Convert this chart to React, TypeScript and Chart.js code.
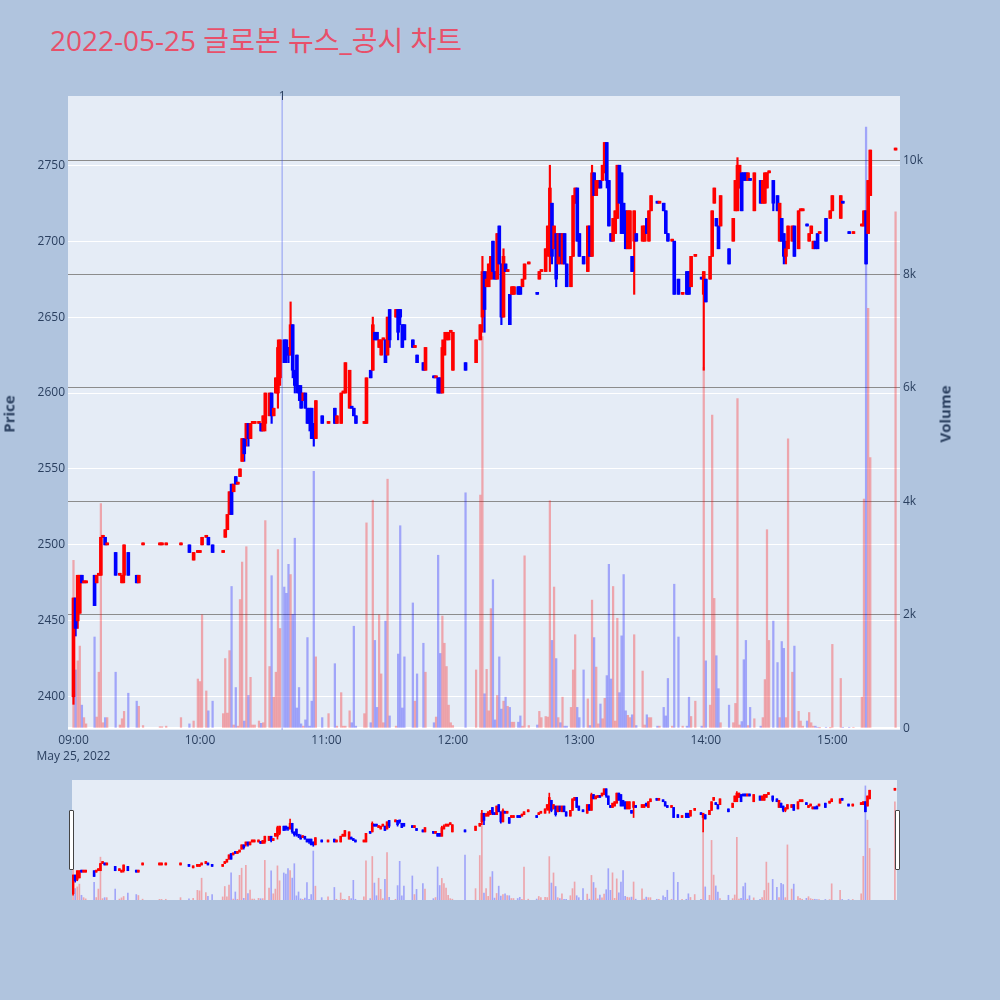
import React, { useEffect, useRef } from "react";
import { Chart, registerables } from "chart.js";

Chart.register(...registerables);

// ---------------- data ----------------
const TITLE = "2022-05-25 글로본 뉴스_공시 차트";
const dateLabel = "May 25, 2022";

const times = [
  "09:00","09:01","09:02","09:03","09:04","09:05","09:06","09:10","09:11","09:12",
  "09:13","09:14","09:15","09:16","09:20","09:22","09:23","09:24","09:26","09:30",
  "09:31","09:33","09:41","09:42","09:44","09:51","09:55","09:57","09:59","10:00",
  "10:01","10:03","10:04","10:06","10:11","10:12","10:13","10:14","10:15","10:16",
  "10:17","10:18","10:19","10:20","10:21","10:22","10:23","10:24","10:25","10:26",
  "10:28","10:29","10:30","10:31","10:33","10:34","10:35","10:36","10:37","10:38",
  "10:40","10:41","10:42","10:43","10:44","10:45","10:46","10:47","10:48","10:49",
  "10:50","10:51","10:52","10:53","10:54","10:55","10:58","11:01","11:04","11:05",
  "11:07","11:08","11:09","11:11","11:12","11:13","11:14","11:18","11:19","11:21",
  "11:22","11:23","11:24","11:25","11:26","11:27","11:28","11:29","11:30","11:33",
  "11:34","11:35","11:36","11:37","11:41","11:42","11:43","11:46","11:47","11:51",
  "11:52","11:53","11:54","11:55","11:56","11:57","11:58","11:59","12:00","12:06",
  "12:11","12:13","12:14","12:15","12:16","12:17","12:18","12:19","12:20","12:21",
  "12:22","12:23","12:24","12:25","12:26","12:27","12:28","12:29","12:31","12:32",
  "12:33","12:34","12:36","12:40","12:41","12:42","12:44","12:45","12:46","12:47",
  "12:48","12:49","12:50","12:51","12:52","12:53","12:54","12:56","12:57","12:58",
  "12:59","13:00","13:02","13:04","13:05","13:06","13:07","13:08","13:09","13:10",
  "13:11","13:12","13:13","13:14","13:15","13:16","13:17","13:18","13:19","13:20",
  "13:21","13:22","13:23","13:24","13:25","13:26","13:27","13:30","13:31","13:32",
  "13:33","13:34","13:37","13:38","13:40","13:41","13:42","13:44","13:45","13:47",
  "13:49","13:51","13:52","13:53","13:55","13:58","13:59","14:00","14:02","14:03",
  "14:04","14:05","14:06","14:07","14:11","14:13","14:14","14:15","14:16","14:17",
  "14:18","14:19","14:20","14:21","14:23","14:26","14:27","14:28","14:29","14:30",
  "14:32","14:34","14:35","14:36","14:37","14:38","14:39","14:41","14:42","14:44",
  "14:45","14:46","14:48","14:49","14:50","14:51","14:52","14:53","14:54","14:57",
  "14:59","15:00","15:04","15:05","15:08","15:10","15:14","15:15","15:16","15:17",
  "15:18","15:30",
];

const opens = [
  2400,2465,2450,2455,2480,2475,2475,2480,2475,2480,
  2480,2505,2505,2500,2495,2480,2475,2480,2495,2480,
  2475,2500,2500,2500,2500,2500,2500,2490,2495,2495,
  2500,2505,2505,2500,2495,2505,2510,2520,2540,2535,
  2545,2540,2545,2555,2570,2570,2580,2570,2580,2580,
  2580,2580,2575,2580,2585,2600,2585,2600,2600,2610,
  2635,2635,2630,2625,2645,2615,2625,2605,2600,2595,
  2600,2590,2590,2590,2580,2570,2585,2580,2590,2580,
  2580,2600,2600,2590,2590,2590,2585,2580,2580,2615,
  2615,2640,2640,2630,2625,2635,2635,2625,2655,2650,
  2655,2655,2645,2645,2635,2630,2625,2620,2615,2610,
  2610,2610,2610,2600,2625,2635,2635,2640,2615,2620,
  2620,2635,2650,2680,2670,2670,2675,2700,2680,2675,
  2710,2685,2650,2685,2680,2665,2665,2665,2670,2670,
  2670,2675,2685,2665,2675,2680,2680,2695,2690,2725,
  2695,2705,2685,2705,2685,2705,2685,2670,2690,2725,
  2735,2705,2690,2680,2710,2690,2745,2730,2735,2740,
  2740,2745,2765,2740,2705,2700,2705,2715,2750,2745,
  2725,2720,2695,2695,2690,2700,2705,2700,2700,2715,
  2700,2720,2725,2725,2725,2720,2705,2700,2700,2675,
  2665,2680,2680,2670,2690,2675,2665,2675,2675,2690,
  2725,2715,2710,2710,2695,2700,2720,2720,2735,2745,
  2745,2745,2740,2740,2720,2740,2725,2725,2735,2745,
  2740,2730,2700,2715,2705,2690,2695,2700,2710,2695,
  2720,2720,2710,2700,2705,2695,2700,2705,2705,2715,
  2715,2720,2715,2725,2705,2705,2710,2710,2720,2705,
  2730,2760,
];

const highs = [
  2465,2465,2480,2480,2480,2475,2475,2480,2480,2480,
  2505,2505,2505,2500,2495,2480,2480,2500,2495,2480,
  2480,2500,2500,2500,2500,2500,2500,2495,2495,2495,
  2505,2505,2505,2500,2495,2510,2520,2535,2540,2540,
  2545,2540,2550,2570,2570,2580,2580,2580,2580,2580,
  2580,2580,2585,2600,2600,2600,2590,2610,2635,2635,
  2635,2635,2630,2660,2645,2615,2625,2605,2605,2600,
  2600,2590,2590,2590,2580,2595,2585,2580,2590,2585,
  2600,2600,2620,2615,2590,2590,2585,2580,2610,2615,
  2650,2640,2640,2635,2635,2635,2635,2650,2655,2655,
  2655,2655,2645,2645,2635,2630,2625,2620,2630,2610,
  2610,2610,2610,2635,2640,2640,2640,2640,2640,2620,
  2635,2645,2690,2680,2680,2685,2690,2700,2680,2705,
  2710,2685,2695,2685,2680,2665,2670,2670,2670,2670,
  2675,2685,2685,2665,2680,2680,2695,2710,2750,2725,
  2710,2705,2705,2705,2705,2705,2685,2690,2730,2735,
  2735,2705,2690,2710,2710,2750,2745,2740,2740,2740,
  2750,2765,2765,2740,2705,2715,2720,2750,2750,2745,
  2725,2720,2720,2720,2690,2720,2705,2710,2710,2715,
  2720,2730,2725,2725,2725,2720,2705,2700,2700,2675,
  2665,2680,2680,2690,2690,2675,2680,2675,2690,2720,
  2735,2715,2710,2730,2695,2715,2740,2755,2750,2745,
  2745,2745,2745,2740,2745,2740,2740,2745,2745,2745,
  2740,2730,2725,2715,2705,2700,2710,2710,2710,2720,
  2720,2720,2710,2705,2710,2700,2700,2705,2705,2715,
  2720,2730,2730,2725,2705,2705,2710,2720,2720,2740,
  2760,2760,
];

const lows = [
  2395,2440,2445,2455,2475,2475,2475,2460,2475,2480,
  2480,2505,2500,2500,2480,2480,2475,2475,2480,2475,
  2475,2500,2500,2500,2500,2500,2495,2490,2495,2495,
  2500,2505,2500,2495,2495,2505,2510,2520,2520,2535,
  2540,2540,2545,2555,2555,2565,2565,2570,2580,2580,
  2580,2575,2575,2575,2585,2580,2585,2600,2590,2605,
  2620,2620,2620,2625,2610,2600,2600,2595,2590,2595,
  2590,2580,2575,2570,2565,2570,2580,2580,2580,2580,
  2580,2600,2600,2590,2590,2585,2580,2580,2580,2610,
  2615,2635,2635,2630,2625,2635,2620,2625,2630,2650,
  2635,2645,2630,2635,2630,2630,2620,2615,2615,2610,
  2610,2600,2600,2600,2625,2635,2635,2640,2615,2615,
  2620,2635,2640,2640,2670,2670,2675,2675,2675,2675,
  2685,2645,2650,2680,2680,2645,2665,2665,2665,2665,
  2670,2675,2685,2665,2675,2680,2680,2690,2680,2685,
  2695,2670,2685,2685,2685,2685,2670,2670,2690,2725,
  2700,2690,2685,2680,2690,2690,2730,2730,2735,2735,
  2740,2745,2735,2710,2700,2700,2705,2715,2725,2705,
  2705,2695,2695,2695,2680,2665,2700,2700,2700,2705,
  2700,2720,2725,2725,2720,2705,2700,2700,2665,2665,
  2665,2665,2665,2670,2690,2675,2615,2660,2675,2690,
  2725,2710,2695,2710,2685,2700,2720,2720,2735,2720,
  2740,2740,2740,2740,2720,2725,2725,2725,2735,2745,
  2720,2720,2700,2700,2685,2685,2695,2700,2690,2695,
  2720,2720,2710,2700,2705,2695,2695,2695,2705,2700,
  2715,2720,2715,2725,2705,2705,2710,2710,2685,2705,
  2730,2760,
];

const closes = [
  2465,2445,2480,2480,2475,2475,2475,2460,2480,2480,
  2505,2505,2500,2500,2480,2480,2480,2500,2480,2475,
  2480,2500,2500,2500,2500,2500,2495,2495,2495,2495,
  2505,2505,2500,2495,2495,2510,2520,2535,2520,2540,
  2540,2540,2550,2570,2560,2580,2570,2580,2580,2580,
  2580,2575,2585,2600,2600,2585,2590,2610,2630,2635,
  2620,2625,2625,2645,2615,2605,2605,2600,2590,2600,
  2590,2580,2580,2570,2570,2595,2580,2580,2580,2585,
  2600,2600,2620,2615,2590,2585,2580,2580,2610,2610,
  2645,2635,2635,2635,2635,2635,2620,2650,2635,2655,
  2640,2650,2630,2635,2630,2630,2620,2615,2630,2610,
  2610,2600,2600,2630,2635,2640,2640,2640,2640,2615,
  2635,2645,2680,2655,2675,2685,2690,2680,2675,2705,
  2685,2650,2690,2680,2680,2645,2670,2670,2665,2665,
  2675,2685,2685,2665,2680,2680,2695,2710,2735,2690,
  2710,2675,2705,2690,2705,2685,2670,2690,2730,2735,
  2700,2690,2685,2710,2690,2745,2730,2740,2740,2735,
  2750,2765,2740,2710,2700,2715,2720,2750,2725,2705,
  2705,2695,2720,2720,2680,2720,2700,2710,2710,2705,
  2720,2730,2725,2725,2720,2705,2700,2700,2665,2665,
  2665,2665,2665,2690,2690,2675,2680,2660,2690,2720,
  2735,2710,2695,2730,2685,2715,2740,2750,2750,2720,
  2740,2740,2745,2740,2745,2725,2740,2745,2745,2745,
  2725,2720,2725,2700,2690,2695,2710,2710,2690,2720,
  2720,2720,2710,2705,2710,2700,2695,2695,2705,2700,
  2720,2730,2730,2725,2705,2705,2710,2720,2685,2740,
  2760,2760,
];

const volumes = [
  2960,1030,1190,1450,410,190,80,1610,200,990,
  3960,100,190,190,990,60,170,300,620,480,
  390,50,30,30,40,190,80,130,870,825,
  2000,660,310,480,260,1230,270,1370,2500,60,
  720,40,2270,2930,130,3200,580,900,60,60,
  130,90,100,3660,1090,2690,550,990,3150,1760,
  2490,2380,2890,2710,2010,3350,360,720,80,40,
  150,1600,40,480,4530,1260,190,260,1140,40,
  630,40,40,310,100,1800,40,260,3620,100,
  4020,1550,370,2000,960,100,1890,4390,220,40,
  1310,3570,360,1260,2210,480,960,1500,990,100,
  200,3050,1320,1980,1500,1090,410,100,50,4150,
  1030,4110,6900,610,1040,310,2110,2620,150,580,
  1260,340,480,550,390,370,110,110,110,220,
  40,3040,50,60,300,190,210,200,4010,1550,
  2490,1230,190,100,550,40,40,370,1030,1650,
  370,190,1030,520,50,2260,1600,1080,80,430,
  170,530,930,2890,870,2500,130,1940,630,1630,
  2710,310,230,190,240,1650,50,1010,60,240,
  190,190,40,40,370,220,880,40,2540,1610,
  40,40,550,210,480,40,6360,1190,410,5520,
  2290,1280,700,100,410,100,440,5810,60,120,
  1210,1550,50,370,170,40,190,860,3500,1550,
  1890,1160,190,1530,1410,190,5100,990,1450,300,
  130,40,130,280,100,40,40,20,10,20,
  10,1480,880,20,20,20,550,4040,10590,7400,
  4770,9100,
];

const timeTicks = ["09:00", "10:00", "11:00", "12:00", "13:00", "14:00", "15:00"];
const priceTicks = [2400, 2450, 2500, 2550, 2600, 2650, 2700, 2750];
const volumeTicks = [0, 2000, 4000, 6000, 8000, 10000];
const volumeTickLabels = ["0", "2k", "4k", "6k", "8k", "10k"];
const newsTimes = ["10:39"];
const newsLabels = ["1"];

// ---------------- layout / style ----------------
const FONT = "'Open Sans', 'Noto Sans CJK KR', sans-serif";
const TEXT = "#2a3f5f";
const PAPER = "#B0C4DE";
const PLOT_BG = "#E5ECF6";
const UP = "#ff0000";
const DOWN = "#0000ff";
const UP_VOL = "rgba(255,0,0,0.3)";
const DOWN_VOL = "rgba(0,0,255,0.3)";

const X_RANGE = [-2.6, 392.1];
const SLIDER_X_RANGE = [-0.5, 391];
const PRICE_RANGE = [2378.1, 2795.6];
const VOL_RANGE = [-28, 11139];

const toMinute = (t: string) => {
  const [h, m] = t.split(":").map(Number);
  return (h - 9) * 60 + m;
};

function directions(): boolean[] {
  return closes.map((c, i) => {
    if (c > opens[i]) return true;
    if (c < opens[i]) return false;
    return i === 0 ? true : c >= closes[i - 1];
  });
}

function buildDatasets(bodyW: number, wickW: number, volW: number): any[] {
  const xs = times.map(toMinute);
  const up = directions();
  return [
    {
      type: "bar",
      label: "Volume",
      data: xs.map((x, i) => ({ x, y: volumes[i] })),
      yAxisID: "yv",
      backgroundColor: up.map((u) => (u ? UP_VOL : DOWN_VOL)),
      barThickness: volW,
      grouped: false,
      order: 3,
    },
    {
      type: "bar",
      label: "wick",
      data: xs.map((x, i) => ({ x, y: [lows[i], highs[i]] })),
      yAxisID: "y",
      backgroundColor: up.map((u) => (u ? UP : DOWN)),
      barThickness: wickW,
      minBarLength: 2,
      grouped: false,
      order: 2,
    },
    {
      type: "bar",
      label: "body",
      data: xs.map((x, i) => ({ x, y: [opens[i], closes[i]] })),
      yAxisID: "y",
      backgroundColor: up.map((u) => (u ? UP : DOWN)),
      barThickness: bodyW,
      minBarLength: 2,
      grouped: false,
      order: 1,
    },
  ];
}

const plotBgPlugin = {
  id: "plotBg",
  beforeDraw(chart: any) {
    const { ctx, chartArea } = chart;
    if (!chartArea) return;
    ctx.save();
    ctx.fillStyle = PLOT_BG;
    ctx.fillRect(chartArea.left, chartArea.top, chartArea.right - chartArea.left, chartArea.bottom - chartArea.top);
    ctx.restore();
  },
};

const newsPlugin = {
  id: "newsLines",
  afterDatasetsDraw(chart: any) {
    const { ctx, chartArea, scales } = chart;
    ctx.save();
    newsTimes.forEach((t, i) => {
      const x = scales.x.getPixelForValue(toMinute(t));
      ctx.strokeStyle = "rgba(60,80,240,0.35)";
      ctx.lineWidth = 1.5;
      ctx.beginPath();
      ctx.moveTo(x, chartArea.top);
      ctx.lineTo(x, chartArea.bottom);
      ctx.stroke();
      ctx.fillStyle = TEXT;
      ctx.font = `12px ${FONT}`;
      ctx.textAlign = "center";
      ctx.textBaseline = "middle";
      ctx.fillText(newsLabels[i], x, chartArea.top + 1);
    });
    ctx.restore();
  },
};

function mainConfig(): any {
  const tickFont = { family: FONT, size: 12 };
  return {
    type: "bar",
    data: { datasets: buildDatasets(3, 1.5, 1.6) },
    plugins: [plotBgPlugin, newsPlugin],
    options: {
      animation: false,
      responsive: false,
      devicePixelRatio: 1,
      events: [],
      layout: { padding: { top: 96, left: 0, right: 0, bottom: 0 } },
      plugins: { legend: { display: false }, tooltip: { enabled: false } },
      scales: {
        x: {
          type: "linear",
          offset: false,
          min: X_RANGE[0],
          max: X_RANGE[1],
          grid: { display: false, drawTicks: false, offset: false },
          border: { display: false },
          afterBuildTicks: (s: any) => {
            s.ticks = timeTicks.map((t) => ({ value: toMinute(t) }));
          },
          ticks: {
            autoSkip: false,
            maxRotation: 0,
            minRotation: 0,
            padding: 3,
            color: TEXT,
            font: { ...tickFont, lineHeight: 16 / 12 },
            callback: (_v: any, i: number) => (i === 0 ? [timeTicks[0], dateLabel] : timeTicks[i]),
          },
          afterFit: (s: any) => {
            s.height = 40;
          },
        },
        y: {
          position: "left",
          min: PRICE_RANGE[0],
          max: PRICE_RANGE[1],
          grid: { color: "#ffffff", lineWidth: 1, drawTicks: false },
          border: { display: false },
          afterBuildTicks: (s: any) => {
            s.ticks = priceTicks.map((v) => ({ value: v }));
          },
          ticks: { padding: 3, color: TEXT, font: tickFont, callback: (v: any) => String(v) },
          afterFit: (s: any) => {
            s.width = 68;
          },
        },
        yv: {
          position: "right",
          min: VOL_RANGE[0],
          max: VOL_RANGE[1],
          grid: {
            color: (c: any) => (c.tick && c.tick.value === 0 ? "#ffffff" : "#8c8c8c"),
            lineWidth: (c: any) => (c.tick && c.tick.value === 0 ? 2 : 1),
            drawTicks: false,
          },
          border: { display: false },
          afterBuildTicks: (s: any) => {
            s.ticks = volumeTicks.map((v) => ({ value: v }));
          },
          ticks: {
            padding: 3,
            color: TEXT,
            font: tickFont,
            callback: (_v: any, i: number) => volumeTickLabels[i],
          },
          afterFit: (s: any) => {
            s.width = 100;
          },
        },
      },
    },
  };
}

function sliderConfig(): any {
  return {
    type: "bar",
    data: { datasets: buildDatasets(2, 1, 1) },
    options: {
      animation: false,
      responsive: false,
      devicePixelRatio: 1,
      events: [],
      layout: { padding: 0 },
      plugins: { legend: { display: false }, tooltip: { enabled: false } },
      scales: {
        x: {
          type: "linear",
          display: false,
          offset: false,
          grid: { offset: false },
          min: SLIDER_X_RANGE[0],
          max: SLIDER_X_RANGE[1],
        },
        y: { display: false, min: PRICE_RANGE[0], max: PRICE_RANGE[1] },
        yv: { display: false, min: VOL_RANGE[0], max: VOL_RANGE[1] },
      },
    },
  };
}

export default function App() {
  const mainRef = useRef<HTMLCanvasElement>(null);
  const sliderRef = useRef<HTMLCanvasElement>(null);

  useEffect(() => {
    const c1 = new Chart(mainRef.current as HTMLCanvasElement, mainConfig());
    const c2 = new Chart(sliderRef.current as HTMLCanvasElement, sliderConfig());
    return () => {
      c1.destroy();
      c2.destroy();
    };
  }, []);

  const handle = (left: number): React.CSSProperties => ({
    position: "absolute",
    left,
    top: 810,
    width: 3,
    height: 58,
    background: "#ffffff",
    border: "1px solid #444444",
    borderRadius: 1,
  });

  const axisTitle = (cx: number): React.CSSProperties => ({
    position: "absolute",
    left: cx,
    top: 414,
    transform: "translate(-50%, -50%) rotate(-90deg)",
    fontFamily: FONT,
    fontWeight: 700,
    fontSize: 15,
    lineHeight: "15px",
    color: TEXT,
    whiteSpace: "nowrap",
  });

  return (
    <div
      style={{
        position: "absolute",
        left: 0,
        top: 0,
        width: 1000,
        height: 1000,
        background: PAPER,
        overflow: "hidden",
      }}
    >
      <div
        style={{
          position: "absolute",
          left: 50,
          top: 26,
          fontFamily: FONT,
          fontSize: 28,
          lineHeight: "28px",
          color: "#E8506A",
          whiteSpace: "nowrap",
        }}
      >
        {TITLE}
      </div>
      <canvas
        ref={mainRef}
        width={1000}
        height={770}
        style={{ position: "absolute", left: 0, top: 0, width: 1000, height: 770 }}
      />
      <div style={{ position: "absolute", left: 72, top: 780, width: 825, height: 120, background: PLOT_BG }}>
        <canvas ref={sliderRef} width={825} height={120} style={{ display: "block", width: 825, height: 120 }} />
      </div>
      <div style={handle(69)} />
      <div style={handle(895)} />
      <div style={axisTitle(9)}>Price</div>
      <div style={axisTitle(945)}>Volume</div>
    </div>
  );
}
